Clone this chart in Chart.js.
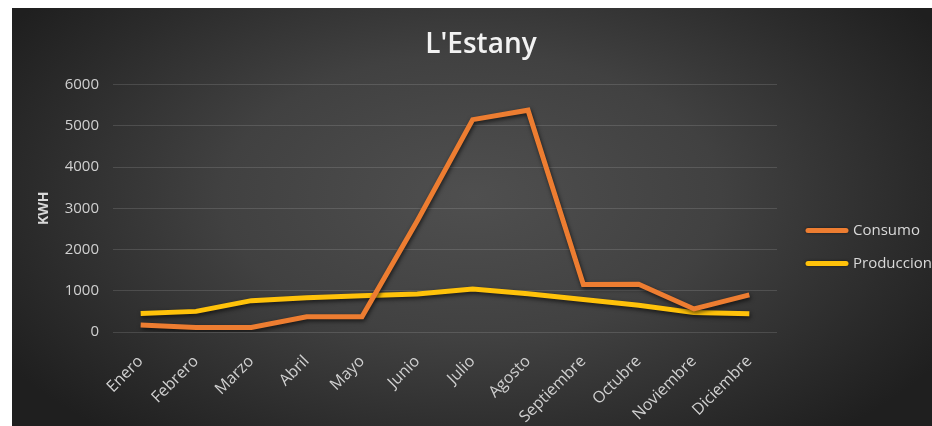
<!DOCTYPE html>
<html>
<head>
<meta charset="utf-8">
<script src="https://cdn.jsdelivr.net/npm/chart.js@4.4.0/dist/chart.umd.min.js"></script>
<style>
  html, body { margin: 0; padding: 0; background: #fff; }
  #box {
    position: absolute; left: 12px; top: 8px; width: 920px; height: 418px;
    background: radial-gradient(ellipse 60% 75% at 50% 45%, #4f4f4f 0%, #414141 45%, #2b2b2b 80%, #1f1f1f 100%);
  }
  canvas { display: block; }
</style>
</head>
<body>
<div id="box"><canvas id="chart" width="920" height="418"></canvas></div>
<script>
const months = ['Enero', 'Febrero', 'Marzo', 'Abril', 'Mayo', 'Junio', 'Julio', 'Agosto', 'Septiembre', 'Octubre', 'Noviembre', 'Diciembre'];
const consumo = [170, 110, 110, 370, 370, 2700, 5150, 5380, 1150, 1160, 560, 900];
const produccion = [450, 500, 760, 830, 880, 920, 1040, 930, 790, 650, 470, 440];
const yTicks = [0, 1000, 2000, 3000, 4000, 5000, 6000];

const FONT = "'Open Sans', sans-serif";

// dark glow under the lines, like the excel style
const lineShadow = {
    id: 'lineShadow',
    beforeDatasetsDraw(chart) {
        const ctx = chart.ctx;
        ctx.save();
        ctx.shadowColor = 'rgba(0,0,0,0.65)';
        ctx.shadowBlur = 4;
        ctx.shadowOffsetX = 1;
        ctx.shadowOffsetY = 2;
    },
    afterDatasetsDraw(chart) {
        chart.ctx.restore();
    }
};

// legend on the right, text runs off the edge like the original
const sideLegend = {
    id: 'sideLegend',
    afterDraw(chart) {
        const ctx = chart.ctx;
        const x0 = chart.chartArea.right + 31;
        ctx.save();
        ctx.font = '15px ' + FONT;
        ctx.textBaseline = 'middle';
        chart.data.datasets.forEach((ds, i) => {
            const y = chart.chartArea.top + 146 + i * 33;
            ctx.strokeStyle = ds.borderColor;
            ctx.lineWidth = 5;
            ctx.lineCap = 'round';
            ctx.shadowColor = 'rgba(0,0,0,0.5)';
            ctx.shadowBlur = 3;
            ctx.beginPath();
            ctx.moveTo(x0, y);
            ctx.lineTo(x0 + 38, y);
            ctx.stroke();
            ctx.shadowColor = 'transparent';
            ctx.fillStyle = '#d9d9d9';
            ctx.fillText(ds.label, x0 + 45, y);
        });
        ctx.restore();
    }
};

const chart = new Chart(document.getElementById('chart').getContext('2d'), {
    type: 'line',
    data: {
        labels: months,
        datasets: [
            { label: 'Consumo', data: consumo, borderColor: '#ED7D31', borderWidth: 5, pointRadius: 0, tension: 0 },
            { label: 'Produccion', data: produccion, borderColor: '#FFC20A', borderWidth: 5, pointRadius: 0, tension: 0 }
        ]
    },
    options: {
        responsive: false,
        animation: false,
        layout: { padding: { left: 20, right: 2, top: 0, bottom: 0 } },
        plugins: {
            legend: { display: false },
            tooltip: { enabled: false },
            title: {
                display: true,
                text: "L'Estany",
                color: '#f2f2f2',
                font: { family: FONT, size: 28, weight: '600' },
                padding: { top: 20, bottom: 23 }
            }
        },
        scales: {
            x: {
                offset: true,
                grid: { display: false },
                border: { display: false },
                ticks: { color: '#d0d0d0', font: { family: FONT, size: 16 }, maxRotation: 45, minRotation: 45, padding: 12 },
                afterFit: s => { s.height = 94; }
            },
            y: {
                min: 0,
                max: 6000,
                afterBuildTicks: s => { s.ticks = yTicks.map(v => ({ value: v })); },
                grid: { color: 'rgba(255,255,255,0.13)', lineWidth: 1, drawTicks: false },
                border: { display: false },
                ticks: { color: '#d0d0d0', font: { family: FONT, size: 15 }, padding: 14, callback: v => String(v) },
                title: { display: true, text: 'KWH', color: '#d9d9d9', font: { family: FONT, size: 14, weight: 'bold' }, padding: { top: 4, bottom: 0 } },
                afterFit: s => { s.width = 81; }
            },
            // empty right axis that only keeps room for the legend
            yRoom: {
                position: 'right',
                grid: { display: false },
                border: { display: false },
                ticks: { display: false },
                afterFit: s => { s.width = 153; }
            }
        }
    },
    plugins: [lineShadow, sideLegend]
});
</script>
</body>
</html>
